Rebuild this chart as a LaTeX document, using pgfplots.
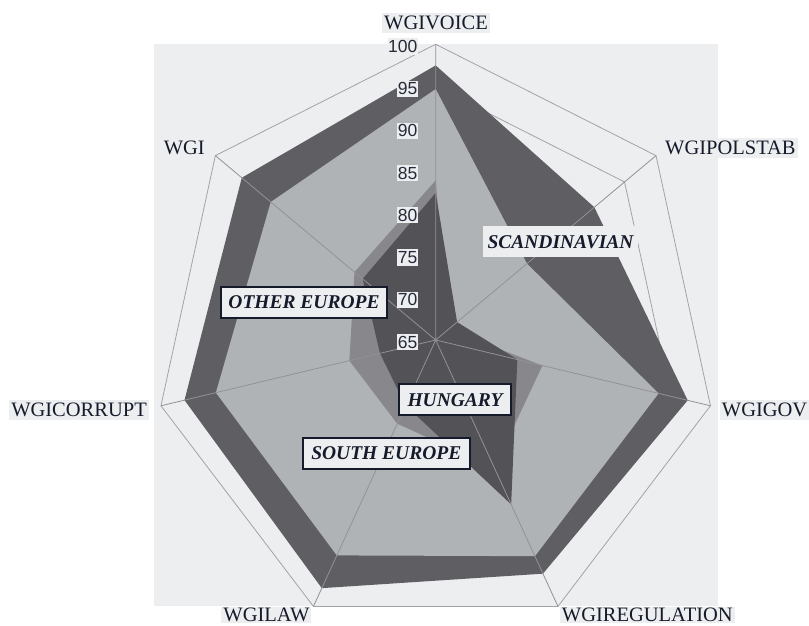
\documentclass[border=0pt]{standalone}
\usepackage{fontspec}
\setmainfont{Liberation Serif}
\newfontfamily\sansf{Liberation Sans}
\usepackage{pgfplots}
\usepackage{pgfplotstable}
\pgfplotsset{compat=1.18}
\definecolor{bgc}{HTML}{EDEEF0}
\definecolor{scan}{HTML}{5F5E63}
\definecolor{oeur}{HTML}{B0B3B6}
\definecolor{seur}{HTML}{88888C}
\definecolor{hung}{HTML}{535257}
\definecolor{gridc}{HTML}{A3A3A6}
\definecolor{spokec}{HTML}{929296}
\definecolor{txt}{HTML}{161B2B}

% angle (deg), gridline radii, series values
\pgfplotstableread{
a         g70 g75 g80 g85 g90 g95 g100 sc   oe   se   hu
90        70  75  80  85  90  95  100  97.5 94.7 83.9 82.4
38.5714   70  75  80  85  90  95  100  90.2 79.5 67.0 68.4
-12.8571  70  75  80  85  90  95  100  97.1 93.4 78.6 75.4
-64.2857  70  75  80  85  90  95  100  95.7 93.4 81.8 86.6
-115.7143 70  75  80  85  90  95  100  97.6 93.3 76.0 73.6
-167.1429 70  75  80  85  90  95  100  97.0 93.0 76.0 72.1
-218.5714 70  75  80  85  90  95  100  95.8 91.2 77.9 76.6
-270      70  75  80  85  90  95  100  97.5 94.7 83.9 82.4
}\radar

% spokes: centre (65) to rim (100)
\pgfplotstableread{
a         r
90        65
90        100
90        65
38.5714   100
38.5714   65
-12.8571  100
-12.8571  65
-64.2857  100
-64.2857  65
-115.7143 100
-115.7143 65
-167.1429 100
-167.1429 65
-218.5714 100
}\spokes

\tikzset{
  axlab/.style={font=\fontsize{20.5}{24}\selectfont, text=txt, fill=bgc, inner xsep=2pt, inner ysep=3pt},
  serlab/.style={font=\fontsize{19.5}{23}\selectfont\bfseries\itshape, text=txt, fill=bgc, inner sep=0pt, minimum height=31pt},
  boxlab/.style={serlab, draw=txt, line width=1.8pt},
  ticklab/.style={font=\sansf\fontsize{17.5}{20}\selectfont, text=txt!85!gray, fill=bgc, inner xsep=0.6pt, inner ysep=2pt, anchor=east}
}

\newcommand{\rx}[1]{(\thisrow{#1}-65)*cos(\thisrow{a})}
\newcommand{\ry}[1]{(\thisrow{#1}-65)*sin(\thisrow{a})}

\begin{document}
\begin{tikzpicture}
\path[use as bounding box] (-435.7pt,-286pt) rectangle (373.3pt,340pt);
\begin{axis}[
  at={(0pt,0pt)}, anchor=origin,
  x=8.052pt, y=8.449pt,
  xmin=-35, xmax=35, ymin=-31.533, ymax=35,
  axis lines=none, ticks=none,
  axis background/.style={fill=bgc},
  clip=false,
]
% grid polygons (behind the fills)
\addplot[draw=gridc, line width=0.8pt] table[x expr={\rx{g70}}, y expr={\ry{g70}}] {\radar};
\addplot[draw=gridc, line width=0.8pt] table[x expr={\rx{g75}}, y expr={\ry{g75}}] {\radar};
\addplot[draw=gridc, line width=0.8pt] table[x expr={\rx{g80}}, y expr={\ry{g80}}] {\radar};
\addplot[draw=gridc, line width=0.8pt] table[x expr={\rx{g85}}, y expr={\ry{g85}}] {\radar};
\addplot[draw=gridc, line width=0.8pt] table[x expr={\rx{g90}}, y expr={\ry{g90}}] {\radar};
\addplot[draw=gridc, line width=0.8pt] table[x expr={\rx{g95}}, y expr={\ry{g95}}] {\radar};
\addplot[draw=gridc, line width=0.8pt] table[x expr={\rx{g100}}, y expr={\ry{g100}}] {\radar};
% filled series
\addplot[fill=scan, draw=none] table[x expr={\rx{sc}}, y expr={\ry{sc}}] {\radar};
\addplot[fill=oeur, draw=none] table[x expr={\rx{oe}}, y expr={\ry{oe}}] {\radar};
\addplot[fill=seur, draw=none] table[x expr={\rx{se}}, y expr={\ry{se}}] {\radar};
\addplot[fill=hung, draw=none] table[x expr={\rx{hu}}, y expr={\ry{hu}}] {\radar};
% spokes
\addplot[draw=spokec, line width=0.8pt] table[x expr={\rx{r}}, y expr={\ry{r}}] {\spokes};
\end{axis}

% radial tick labels
\node[ticklab] at (-17.5pt,-2pt) {65};
\node[ticklab] at (-17.5pt,40.2pt) {70};
\node[ticklab] at (-17.5pt,82.5pt) {75};
\node[ticklab] at (-17.5pt,124.7pt) {80};
\node[ticklab] at (-17.5pt,167pt) {85};
\node[ticklab] at (-17.5pt,209.2pt) {90};
\node[ticklab] at (-17.5pt,251.2pt) {95};
\node[ticklab] at (-17.5pt,293.5pt) {100};

% axis labels
\node[axlab, anchor=base] at (0.3pt,310.5pt) {WGIVOICE};
\node[axlab, anchor=base west] at (227.3pt,185pt) {WGIPOLSTAB};
\node[axlab, anchor=base west] at (284pt,-76.8pt) {WGIGOV};
\node[axlab, anchor=base west, inner ysep=1pt] at (124pt,-281.5pt) {WGIREGULATION};
\node[axlab, anchor=base east, inner ysep=1pt] at (-124pt,-281.5pt) {WGILAW};
\node[axlab, anchor=base east] at (-286.7pt,-76.8pt) {WGICORRUPT};
\node[axlab, anchor=base east] at (-228.7pt,185pt) {WGI};

% series labels
\node[serlab, minimum width=155.6pt] at (124.8pt,98pt) {SCANDINAVIAN};
\node[boxlab, minimum width=166.6pt] at (-131.7pt,37.5pt) {OTHER EUROPE};
\node[boxlab, minimum width=112pt] at (19.3pt,-59.7pt) {HUNGARY};
\node[boxlab, minimum width=167.3pt] at (-49.4pt,-113.5pt) {SOUTH EUROPE};
\end{tikzpicture}
\end{document}
